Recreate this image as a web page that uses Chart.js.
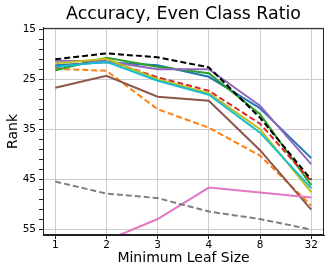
<!DOCTYPE html>
<html>
<head>
<meta charset="utf-8">
<script src="https://cdn.jsdelivr.net/npm/chart.js@4.4.1/dist/chart.umd.min.js"></script>
<style>
  html, body { margin: 0; padding: 0; background: #fff; }
  #wrap { width: 330px; height: 273px; }
</style>
</head>
<body>
<div id="wrap"><canvas id="chart" width="330" height="273"></canvas></div>
<script>
// leaf sizes on the x axis (evenly spaced)
const leafSizes = ['1', '2', '3', '4', '8', '32']
const rankTicks = [15, 25, 35, 45, 55]

// rank per leaf size
const blue = [22.2, 21.6, 22.2, 24.5, 30.8, 40.8]
const orange = [22.9, 23.3, 31.0, 34.7, 40.3, 50.3]
const green = [23.2, 20.7, 22.5, 23.8, 32.0, 46.2]
const red = [22.6, 21.2, 24.6, 27.3, 33.9, 45.4]
const purple = [21.3, 21.4, 23.0, 23.0, 30.3, 42.0]
const brown = [26.7, 24.3, 28.5, 29.3, 39.2, 51.1]
const pink = [59.5, 57.3, 53.0, 46.7, 47.7, 48.7]
const gray = [45.5, 47.9, 48.8, 51.5, 53.0, 55.1]
const olive = [21.8, 20.9, 25.0, 27.8, 35.0, 47.6]
const cyan = [22.5, 21.5, 25.3, 28.1, 35.7, 46.8]
const black = [21.0, 19.8, 20.6, 22.6, 32.7, 45.1]

const series = [
  { label: 'blue', data: blue, color: '#1f77b4', dashed: false },
  { label: 'orange', data: orange, color: '#ff7f0e', dashed: true },
  { label: 'green', data: green, color: '#2ca02c', dashed: false },
  { label: 'red', data: red, color: '#d62728', dashed: true },
  { label: 'purple', data: purple, color: '#9467bd', dashed: false },
  { label: 'brown', data: brown, color: '#8c564b', dashed: false },
  { label: 'pink', data: pink, color: '#e377c2', dashed: false },
  { label: 'gray', data: gray, color: '#7f7f7f', dashed: true },
  { label: 'olive', data: olive, color: '#bcbd22', dashed: false },
  { label: 'cyan', data: cyan, color: '#17becf', dashed: false },
  { label: 'black', data: black, color: '#000000', dashed: true },
]

const FONT = 'DejaVu Sans'

// draws the top and right spines too
const frame = {
  id: 'frame',
  afterDraw(chart) {
    const { ctx, chartArea: a } = chart
    ctx.save()
    ctx.strokeStyle = '#222'
    ctx.lineWidth = 1
    ctx.strokeRect(a.left + 0.5, a.top + 0.5, a.right - a.left - 1, a.bottom - a.top - 1)
    ctx.restore()
  }
}

new Chart(document.getElementById('chart'), {
  type: 'line',
  data: {
    datasets: series.map((s, i) => ({
      label: s.label,
      data: s.data.map((v, j) => ({ x: j, y: v })),
      borderColor: s.color,
      backgroundColor: s.color,
      borderWidth: 2,
      borderDash: s.dashed ? [6, 3] : [],
      pointRadius: 0,
      tension: 0,
      order: series.length - i
    }))
  },
  options: {
    responsive: false,
    animation: false,
    layout: { padding: { left: 0, right: 6, top: 0, bottom: 0 } },
    plugins: {
      legend: { display: false },
      tooltip: { enabled: false },
      title: {
        display: true,
        fullSize: false,
        text: 'Accuracy, Even Class Ratio',
        color: '#000',
        font: { family: FONT, size: 17.4, weight: 'normal' },
        padding: { top: 4, bottom: 3 }
      }
    },
    scales: {
      x: {
        type: 'linear',
        min: -0.24,
        max: 5.25,
        afterBuildTicks: (scale) => {
          scale.ticks = leafSizes.map((_, i) => ({ value: i }))
        },
        afterFit: (scale) => { scale.height = 38 },
        ticks: {
          color: '#000',
          padding: 0,
          autoSkip: false,
          font: { family: FONT, size: 10.5 },
          callback: (v) => leafSizes[v]
        },
        grid: { color: '#cccccc', tickColor: '#222', tickLength: 4 },
        border: { color: '#222' },
        title: {
          display: true,
          text: 'Minimum Leaf Size',
          color: '#000',
          font: { family: FONT, size: 14 },
          padding: { top: 0, bottom: 6 }
        }
      },
      y: {
        reverse: true,
        min: 14.7,
        max: 56.2,
        afterBuildTicks: (scale) => {
          const t = []
          for (let v = 15; v <= 55; v += 2) t.push({ value: v })
          scale.ticks = t
        },
        afterFit: (scale) => { scale.width = 43 },
        ticks: {
          color: '#000',
          padding: 3,
          autoSkip: false,
          font: { family: FONT, size: 10.5 },
          callback: (v) => (rankTicks.includes(v) ? String(v) : '')
        },
        grid: {
          color: (c) => (c.tick && rankTicks.includes(c.tick.value) ? '#cccccc' : 'rgba(0,0,0,0)'),
          tickColor: '#222',
          tickLength: 4
        },
        border: { color: '#222' },
        title: {
          display: true,
          text: 'Rank',
          color: '#000',
          font: { family: FONT, size: 14 },
          padding: { top: 4.5, bottom: 0 }
        }
      }
    }
  },
  plugins: [frame]
})
</script>
</body>
</html>
